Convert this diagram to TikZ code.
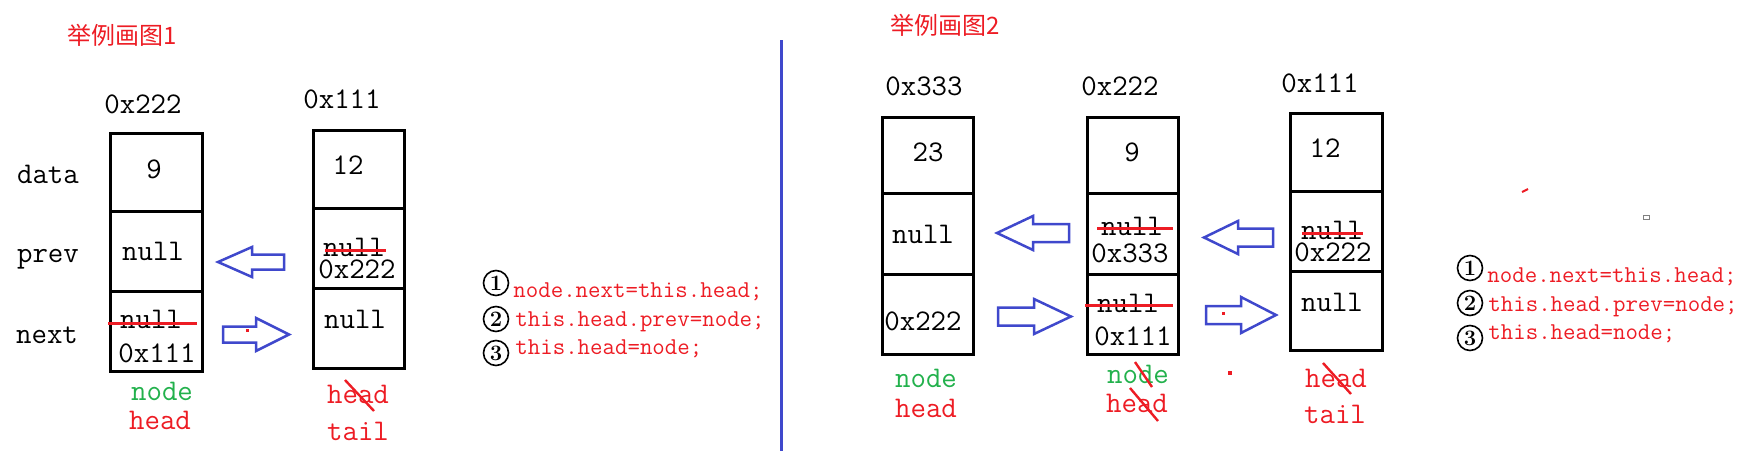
\documentclass[tikz,border=0pt]{standalone}
\usepackage{fontspec}
\newfontfamily\cjkfont{Noto Sans CJK SC}
\newcommand\labfont{\ttfamily\addfontfeatures{FakeStretch=0.92,FakeBold=1.6}}
\newcommand\codefont{\ttfamily\addfontfeatures{FakeBold=1.2}}
\newcommand\numfont{\rmfamily\bfseries}
\definecolor{pred}{RGB}{237,28,36}
\definecolor{pgreen}{RGB}{34,177,76}
\definecolor{pblue}{RGB}{63,72,204}
\newcommand\blockarr[6]{%
  \draw[barrow] (#1,#4) -- (#2,#4-#6) -- (#2,#4-#5) -- (#3,#4-#5) -- (#3,#4+#5) -- (#2,#4+#5) -- (#2,#4+#6) -- cycle;}
\begin{document}
\begin{tikzpicture}[x=0.5pt,y=-0.5pt,
  cell/.style={draw=black,line width=1.5pt,rectangle,inner sep=0pt,outer sep=0pt},
  lab/.style={font=\fontsize{15}{15}\labfont,inner sep=0pt,anchor=base},
  rlab/.style={lab,text=pred},
  glab/.style={lab,text=pgreen},
  code/.style={font=\fontsize{12.1}{12.1}\codefont,text=pred,inner sep=0pt,anchor=base west},
  circ/.style={circle,draw=black,line width=0.8pt,minimum size=12.5pt,inner sep=0pt,font=\fontsize{11}{11}\numfont},
  title/.style={font=\cjkfont\fontsize{12}{12}\selectfont,text=pred,inner sep=0pt},
  strike/.style={pred,line width=1.5pt},
  barrow/.style={pblue,line width=1.25pt,fill=white}]
\useasboundingbox (0,0) rectangle (1758,451);

% ---------------- Drawing 1 ----------------
\node[title] (t1) at (122,35) {举例画图1};
\node[lab] (ad11) at (143,113) {0x222};
\node[lab] (ad12) at (342,108) {0x111};
\node[lab] (ldata) at (48,183) {data};
\node[lab] (lprev) at (48,262) {prev};
\node[lab] (lnext) at (47,343) {next};

\node[cell,minimum width=46pt,minimum height=39pt] (b1d) at (156,172) {};
\node[cell,minimum width=46pt,minimum height=40pt] (b1p) at (156,251) {};
\node[cell,minimum width=46pt,minimum height=40pt] (b1n) at (156,331) {};
\node[cell,minimum width=45.5pt,minimum height=39pt] (b2d) at (358.5,169) {};
\node[cell,minimum width=45.5pt,minimum height=40pt] (b2p) at (358.5,248) {};
\node[cell,minimum width=45.5pt,minimum height=40pt] (b2n) at (358.5,328) {};

\node[lab] (v1d) at (154,178) {9};
\node[lab] (v1p) at (153,260) {null};
\node[lab] (v1n) at (151,328) {null};
\node[lab] (v1n2) at (157,362) {0x111};
\node[lab] (v2d) at (348,174) {12};
\node[lab] (v2p) at (354,256) {null};
\node[lab] (v2p2) at (357,278) {0x222};
\node[lab] (v2n) at (355,328) {null};

\draw[strike] (108,323) -- (197,323);
\draw[strike] (325,250) -- (386,250);

\blockarr{218}{252}{284}{262}{7.5}{15}
\blockarr{289}{256}{223}{334.5}{8}{16.5}

\node[glab] (n1) at (162,400) {node};
\node[rlab] (h1) at (160,429) {head};
\node[rlab] (h2) at (358,403) {head};
\node[rlab] (tl2) at (358,440) {tail};
\draw[pred,line width=1.2pt] (345,380) -- (374,411);

\node[circ] (c11) at (496,283) {1};
\node[circ] (c12) at (496,319) {2};
\node[circ] (c13) at (496,353) {3};
\node[code] (s11) at (513,297) {node.next=this.head;};
\node[code] (s12) at (515,326) {this.head.prev=node;};
\node[code] (s13) at (515,354) {this.head=node;};

\fill[pred] (246,329) rectangle (249,332);

% divider
\draw[pblue,line width=1.5pt] (781,40) -- (781,451);

% ---------------- Drawing 2 ----------------
\node[title] (t2) at (945,25) {举例画图2};
\node[lab] (ad21) at (924,95) {0x333};
\node[lab] (ad22) at (1120,95) {0x222};
\node[lab] (ad23) at (1320,92) {0x111};

\node[cell,minimum width=45.5pt,minimum height=38pt] (ad) at (927.5,155) {};
\node[cell,minimum width=45.5pt,minimum height=40.5pt] (ap) at (927.5,233.5) {};
\node[cell,minimum width=45.5pt,minimum height=40pt] (an) at (927.5,314) {};
\node[cell,minimum width=45.5pt,minimum height=38pt] (bd) at (1132.5,155) {};
\node[cell,minimum width=45.5pt,minimum height=40.5pt] (bp) at (1132.5,233.5) {};
\node[cell,minimum width=45.5pt,minimum height=40pt] (bn) at (1132.5,314) {};
\node[cell,minimum width=46pt,minimum height=39pt] (cd) at (1336,152) {};
\node[cell,minimum width=46pt,minimum height=40pt] (cp) at (1336,231) {};
\node[cell,minimum width=46pt,minimum height=39.5pt] (cn) at (1336,310.5) {};

\node[lab] (vad) at (928,161) {23};
\node[lab] (vap) at (923,243) {null};
\node[lab] (van) at (923,330) {0x222};
\node[lab] (vbd) at (1132,161) {9};
\node[lab] (vbp) at (1132,235) {null};
\node[lab] (vbp2) at (1130,262) {0x333};
\node[lab] (vbn) at (1128,312) {null};
\node[lab] (vbn2) at (1133,345) {0x111};
\node[lab] (vcd) at (1325,157) {12};
\node[lab] (vcp) at (1332,239) {null};
\node[lab] (vcp2) at (1333,261) {0x222};
\node[lab] (vcn) at (1332,311) {null};

\draw[strike] (1097,228) -- (1173,228);
\draw[strike] (1085,305) -- (1173,305);
\draw[strike] (1302,233) -- (1363,233);

\blockarr{997}{1033}{1069}{233}{9}{17}
\blockarr{1071}{1034}{998}{316.5}{9}{17.5}
\blockarr{1204}{1238}{1273}{237.5}{9}{16.5}
\blockarr{1276}{1241}{1206}{315}{9}{18}

\node[glab] (na) at (926,387) {node};
\node[rlab] (ha) at (926,417) {head};
\node[glab] (nb) at (1138,383) {node};
\node[rlab] (hb) at (1137,412) {head};
\node[rlab] (hc) at (1336,387) {head};
\node[rlab] (tc) at (1335,423) {tail};
\draw[pred,line width=1.2pt] (1135,362) -- (1152,387);
\draw[pred,line width=1.2pt] (1130,388) -- (1158,421);
\draw[pred,line width=1.2pt] (1323,363) -- (1351,394);

\node[circ] (c21) at (1470,268) {1};
\node[circ] (c22) at (1470,303) {2};
\node[circ] (c23) at (1470,338) {3};
\node[code] (s21) at (1487,282) {node.next=this.head;};
\node[code] (s22) at (1488,311) {this.head.prev=node;};
\node[code] (s23) at (1488,339) {this.head=node;};

\fill[pred] (1222,312) rectangle (1225,315);
\fill[pred] (1228,371) rectangle (1232,375);
\draw[pred,line width=1pt] (1522,192) -- (1528,189);
\draw[gray,line width=0.5pt] (1643,215) rectangle (1649,219);
\end{tikzpicture}
\end{document}
